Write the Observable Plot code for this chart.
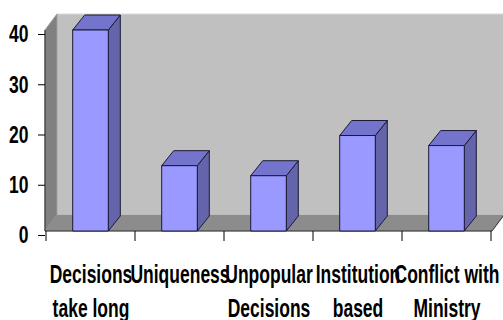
<!DOCTYPE html>
<html><head><meta charset="utf-8">
<script src="https://cdn.jsdelivr.net/npm/d3@7"></script>
<script src="https://cdn.jsdelivr.net/npm/@observablehq/plot@0.6"></script>
<style>body{margin:0;background:#fff}</style>
</head><body><div id="chart"></div>
<script>
const categories = ["Decisions\ntake long", "Uniqueness", "Unpopular\nDecisions", "Institution\nbased", "Conflict with\nMinistry"];
const values = [40, 13, 11, 19, 17];
const yTicks = [0, 10, 20, 30, 40];
const yMax = 40;

const data = categories.map((c, i) => ({category: c, value: values[i]}));

const WALL_DX = 12, WALL_DY = -16;
const BAR_DX = 12, BAR_DY = -15;
const BAR_FRAC = 0.4;

function scene(index, scales, vals, dims) {
  const x = scales.x, y = scales.y;
  const bw = x.bandwidth();
  const x0 = dims.marginLeft, x1 = dims.width - dims.marginRight;
  const yb = y(0), yt = y(yMax);
  const g = d3.create("svg:g");
  const poly = (pts, fill, stroke, sw) => g.append("polygon")
    .attr("points", pts.map(p => p.join(",")).join(" "))
    .attr("fill", fill).attr("stroke", stroke || "none").attr("stroke-width", sw || 1)
    .attr("stroke-linejoin", "round");
  poly([[x0 + WALL_DX, yt + WALL_DY], [x1 + WALL_DX, yt + WALL_DY], [x1 + WALL_DX, yb + WALL_DY], [x0 + WALL_DX, yb + WALL_DY]], "#c0c0c0", "#d8d8d8", 1);
  poly([[x0, yb], [x0, yt], [x0 + WALL_DX, yt + WALL_DY], [x0 + WALL_DX, yb + WALL_DY]], "#808080", "#9a9a9a", 1);
  poly([[x0, yb], [x1, yb], [x1 + WALL_DX, yb + WALL_DY], [x0 + WALL_DX, yb + WALL_DY]], "#8c8c8c", "#8c8c8c", 0.5);
  g.append("line").attr("x1", x0).attr("x2", x0).attr("y1", yt).attr("y2", yb).attr("stroke", "#222");
  g.append("line").attr("x1", x0).attr("x2", x1).attr("y1", yb).attr("y2", yb).attr("stroke", "#333");
  g.append("line").attr("x1", x1).attr("x2", x1 + WALL_DX).attr("y1", yb).attr("y2", yb + WALL_DY).attr("stroke", "#333");
  const bounds = categories.map(c => x(c)).concat([x(categories[categories.length - 1]) + bw]);
  for (const bx of bounds) {
    g.append("line").attr("x1", bx).attr("x2", bx).attr("y1", yb).attr("y2", yb + 10).attr("stroke", "#000");
  }
  for (const i of index) {
    const d = data[i];
    const w = bw * BAR_FRAC;
    const bx = x(d.category) + (bw - w) / 2;
    const yv = y(d.value);
    poly([[bx + w, yv], [bx + w + BAR_DX, yv + BAR_DY], [bx + w + BAR_DX, yb + BAR_DY], [bx + w, yb]], "#6464aa", "#1a1a33", 1);
    poly([[bx, yv], [bx + w, yv], [bx + w + BAR_DX, yv + BAR_DY], [bx + BAR_DX, yv + BAR_DY]], "#7474cc", "#1a1a33", 1);
    poly([[bx, yv], [bx + w, yv], [bx + w, yb], [bx, yb]], "#9999ff", "#1a1a33", 1);
  }
  return g.node();
}

const FONT = 17.5, Y_STRETCH = 1.4, X_STRETCH = 1.5;
const FIRST_DY = 12.4, LINE_DY = 22.7;

const chart = Plot.plot({
  width: 503,
  height: 320,
  marginLeft: 45,
  marginRight: 11,
  marginTop: 30,
  marginBottom: 89,
  style: {fontFamily: "'Liberation Sans', Arial, sans-serif", background: "#fff", overflow: "visible"},
  x: {type: "band", domain: categories, padding: 0, label: null},
  y: {domain: [0, yMax], label: null},
  marks: [
    Plot.barY(data, {x: "category", y: "value", render: scene}),
    Plot.axisY({ticks: yTicks, tickSize: 7, tickPadding: 10, fontSize: FONT, fontWeight: "bold", dy: 4, stroke: "#000", label: null}),
    Plot.axisX({tickSize: 0, tickPadding: 32.7, fontSize: FONT, fontWeight: "bold", label: null})
  ]
});

function stretch(sel, s) {
  d3.select(chart).selectAll(sel).each(function () {
    const t = this;
    const tx = +t.getAttribute("x") || 0, ty = +t.getAttribute("y") || 0;
    const tr = t.getAttribute("transform") || "";
    t.setAttribute("transform", `${tr} translate(${tx},${ty}) scale(1,${s}) translate(${-tx},${-ty})`);
    t.setAttribute("fill", "#000");
  });
}
stretch('g[aria-label="y-axis tick label"] text', Y_STRETCH);

// x labels: rebuild lines with explicit pixel offsets, then stretch
d3.select(chart).selectAll('g[aria-label="x-axis tick label"] text').each(function () {
  const t = this;
  const spans = t.querySelectorAll("tspan");
  const lines = spans.length ? Array.from(spans, sp => sp.textContent) : [t.textContent];
  while (t.firstChild) t.removeChild(t.firstChild);
  t.removeAttribute("dy");
  t.setAttribute("y", 0);
  const tx = +t.getAttribute("x") || 0;
  lines.forEach((ln, k) => {
    const sp = document.createElementNS("http://www.w3.org/2000/svg", "tspan");
    sp.setAttribute("x", tx);
    sp.setAttribute("dy", k === 0 ? FIRST_DY : LINE_DY);
    sp.textContent = ln;
    t.appendChild(sp);
  });
});
stretch('g[aria-label="x-axis tick label"] text', X_STRETCH);

document.getElementById("chart").append(chart);
</script>
</body></html>
